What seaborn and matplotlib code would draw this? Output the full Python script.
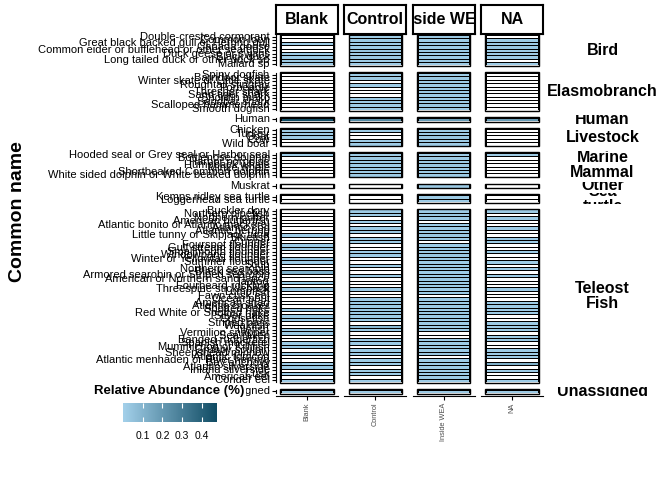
import matplotlib
matplotlib.use("Agg")
import matplotlib.pyplot as plt
import matplotlib.cm as cm
import pandas as pd
import seaborn as sns
from matplotlib.colors import LinearSegmentedColormap, Normalize
from matplotlib.patches import Rectangle

plt.rcParams["font.family"] = ["Liberation Sans", "DejaVu Sans"]

sites = ["Blank", "Control", "Inside WEA", "NA"]
groups = ["Bird", "Elasmobranch", "Human", "Livestock", "Marine\nMammal",
          "Other", "Sea\nturtle", "Teleost\nFish", "Unassigned"]

bird = ["Double-crested cormorant", "Common loon", "Great black backed gull or Herring gull",
        "Canada goose", "Common eider or bufflehead or other sea duck", "Duck geese or swans",
        "Black duck", "Long tailed duck or other duck sp", "Mallard sp"]
elasmobranch = ["Spiny dogfish", "Barndoor skate", "Winter skate or Little skate",
                "Roughtail stingray", "Porbeagle", "Thresher shark", "Sand tiger shark",
                "Shortfin mako", "Sandbar shark", "Scalloped hammerhead", "Smooth dogfish"]
human = ["Human"]
livestock = ["Chicken", "Turkey", "Goat", "Cow", "Wild boar"]
marine_mammal = ["Hooded seal or Grey seal or Harbor seal", "Bottlenose dolphin",
                 "Harbor porpoise", "Humpback whale", "Minke whale",
                 "Shortbeaked Common dolphin", "White sided dolphin or White beaked dolphin"]
other = ["Muskrat"]
sea_turtle = ["Kemps ridley sea turtle", "Loggerhead sea turtle"]
teleost = ["Buckler dory", "Northern pipefish", "Northern puffer", "American butterfish",
           "Atlantic bonito or Atlantic mackerel", "Atlantic cod", "Atlantic herring",
           "Little tunny or Skipjack tuna", "Bluefish", "Cunner", "Fourspot flounder",
           "Gulf stream flounder", "Smallmouth flounder", "Windowpane flounder",
           "Winter or Yellowtail flounder", "Summer flounder", "Scup", "Northern searobin",
           "Black sea bass", "Armored searobin or Striped searobin",
           "American or Northern sand lance", "Tautog", "Fourbeard rockling",
           "Threespine stickleback", "Lumpfish", "Fawn cusk eel", "Ocean pout",
           "American shad", "Atlantic croaker", "Spotted hake", "Red White or Spotted hake",
           "Silver hake", "Goosefish", "Striped bass", "Weakfish", "Tilefish",
           "Vermilion snapper", "Sea raven", "Banded rudderfish", "Spanish mackerel",
           "Mummichog or Killifish", "Grubby sculpin", "Sheepshead minnow", "Atlantic tomcod",
           "Atlantic menhaden or River herring", "Bay anchovy", "Atlantic silverside",
           "Inland silverside", "Cusk", "American eel", "Conger eel"]
unassigned = ["Unassigned"]
group_members = [bird, elasmobranch, human, livestock, marine_mammal,
                 other, sea_turtle, teleost, unassigned]

# relative abundance per site, rows in the same order as the name lists above
blank = [0, 0, .02, 0, 0, .02, .02, .03, .02,
         0, 0, 0, 0, 0, 0, 0, 0, 0, 0, 0,
         .47,
         .02, .02, .02, 0, 0,
         .02, 0, 0, 0, 0, 0, 0,
         0,
         0, 0,
         0, 0, 0, 0, 0, 0, 0, .02, 0, 0,
         .02, .02, 0, 0, .02, .02, 0, 0, .12, 0,
         0, .02, 0, .02, 0, 0, 0, 0, 0, .02,
         0, .02, .02, 0, 0, .02, .02, 0, 0, .02,
         .02, 0, .02, 0, 0, .02, .02, 0, .02, 0,
         .02,
         .03]
control = [.02, .03, .02, .02, .04, .02, .03, .02, .02,
           .02, .02, 0, .02, 0, 0, 0, .02, .02, .02, .02,
           .25,
           .02, 0, 0, .02, .02,
           .02, .02, .03, .02, .02, .02, .02,
           0,
           0, 0,
           .02, .02, 0, .02, 0, .02, .03, 0, .02, .02,
           0, 0, .02, .02, 0, 0, .02, 0, 0, .02,
           0, 0, 0, .02, 0, 0, .02, .02, .02, .03,
           .02, .02, .02, 0, .08, .02, 0, 0, .02, .02,
           0, .02, .02, 0, .02, .02, 0, .02, .02, 0,
           .02,
           .03]
inside_wea = [.03, .02, .04, .02, .03, .02, .02, .03, .02,
              .02, .03, .02, .02, .02, .03, .02, .02, .02, .03, .02,
              .19,
              .02, .02, .03, .02, .02,
              .02, .02, .02, .03, .02, .02, .02,
              .02,
              .02, .02,
              .02, .03, .02, 0, .02, .02, .02, .03, .02, 0,
              .02, .02, .02, .03, .02, .02, .02, .02, .02, .02,
              .03, .02, .02, .02, .02, 0, .02, .02, .02, .02,
              .03, .02, .02, .02, .02, .02, 0, 0, .02, .02,
              .02, .02, .03, 0, .02, .02, .02, .02, .02, .02,
              .02,
              .03]
na_site = [0, .02, .02, .03, .02, .02, .02, 0, .02,
           0, 0, 0, 0, 0, 0, 0, 0, 0, 0, 0,
           .19,
           0, 0, 0, 0, 0,
           .02, 0, 0, 0, 0, 0, 0,
           0,
           0, 0,
           .02, 0, .02, 0, 0, .02, 0, 0, .02, .02,
           0, 0, .02, 0, 0, .02, 0, .02, 0, .02,
           0, 0, 0, .02, 0, 0, 0, .02, .02, .02,
           .02, 0, 0, .02, .02, .02, 0, .02, .02, 0,
           0, .02, .02, .02, 0, .12, 0, .02, 0, 0,
           .02,
           .03]

colorbar_ticks = [0.1, 0.2, 0.3, 0.4]
VMAX = 0.476

names_all = [n for g in group_members for n in g]
group_all = [lab for lab, g in zip(groups, group_members) for _ in g]
wide = pd.DataFrame({"common_name": names_all, "group": group_all,
                     "Blank": blank, "Control": control,
                     "Inside WEA": inside_wea, "NA": na_site})
long = wide.melt(id_vars=["common_name", "group"], var_name="site", value_name="abundance")

cmap = LinearSegmentedColormap.from_list("abund", ["#a3d0ea", "#0f4b63"])
cmap_cells = cmap.copy()
cmap_cells.set_under("white")

W, H = 672, 480


def fig_rect(x0, y0, x1, y1):
    return [x0 / W, 1 - y1 / H, (x1 - x0) / W, (y1 - y0) / H]


fig = plt.figure(figsize=(W / 100, H / 100), dpi=100, facecolor="white")

col_left = [276, 344.3, 412.6, 481]
col_w = 62
top, bottom, gap = 35, 393, 7.5
total_rows = len(names_all)
row_h = (bottom - top - gap * (len(groups) - 1)) / total_rows
# half of the border width in pixels, so the frame sits just outside the tiles
half_px = 0.7
dx = half_px / (col_w / 1.2)
dy = half_px / row_h

y0 = top
for gi, (grp, members) in enumerate(zip(groups, group_members)):
    n = len(members)
    y1 = y0 + n * row_h
    last = gi == len(groups) - 1
    for j, site in enumerate(sites):
        ax = fig.add_axes(fig_rect(col_left[j], y0, col_left[j] + col_w, y1))
        sub = long[(long["group"] == grp) & (long["site"] == site)]
        mat = sub.set_index("common_name")[["abundance"]].loc[members]
        mat.columns = [site]
        sns.heatmap(mat, ax=ax, cmap=cmap_cells, vmin=0.001, vmax=VMAX, cbar=False,
                    linewidths=0.4, linecolor="black",
                    xticklabels=False, yticklabels=(j == 0))
        ax.set_xlim(-0.1, 1.1)
        ax.set_ylim(n, 0)
        ax.set_xlabel("")
        ax.set_ylabel("")
        ax.add_patch(Rectangle((-dx, -dy), 1 + 2 * dx, n + 2 * dy, fill=False,
                               lw=1.0, ec="black", clip_on=False))
        if j == 0:
            ax.set_yticks([i + 0.5 for i in range(n)])
            ax.set_yticklabels(members, rotation=0, fontsize=8, color="black")
            ax.spines["left"].set_visible(True)
            ax.spines["left"].set_linewidth(0.8)
            ax.tick_params(axis="y", length=3, width=0.8, pad=1.5, left=True)
        else:
            ax.set_yticks([])
        if last:
            ax.set_xticks([0.5])
            ax.set_xticklabels([site])
            ax.spines["bottom"].set_visible(True)
            ax.spines["bottom"].set_linewidth(0.8)
            ax.spines["bottom"].set_position(("outward", 2.5))
            ax.tick_params(axis="x", length=3, width=0.8, pad=1.5, bottom=True,
                           labelrotation=90, labelsize=5.3, labelcolor="#4d4d4d")
        else:
            ax.set_xticks([])

    # facet label on the right, clipped to its row like ggplot strips
    gax = fig.add_axes(fig_rect(547, y0 - 2.5, 658, y1 + 2.5))
    gax.set_facecolor("none")
    gax.set_xticks([])
    gax.set_yticks([])
    for s in gax.spines.values():
        s.set_visible(False)
    gax.text(0.5, 0.5, grp, transform=gax.transAxes, ha="center", va="center",
             fontsize=11.5, fontweight="bold", linespacing=1.0, clip_on=True)
    y0 = y1 + gap

# top strips
for j, site in enumerate(sites):
    sax = fig.add_axes(fig_rect(col_left[j], 5, col_left[j] + col_w, 34))
    sax.set_xticks([])
    sax.set_yticks([])
    for s in sax.spines.values():
        s.set_linewidth(1.5)
    sax.text(0.5, 0.5, site, transform=sax.transAxes, ha="center", va="center",
             fontsize=11.5, fontweight="bold", clip_on=True)

fig.text(18 / W, 1 - 212 / H, "Common name", rotation=90, ha="center", va="center",
         fontsize=14, fontweight="bold")

# colour legend
fig.text(94 / W, 1 - 391 / H, "Relative Abundance (%)", ha="left", va="center",
         fontsize=9.5, fontweight="bold",
         bbox=dict(facecolor="white", edgecolor="none", pad=1.5))
cax = fig.add_axes(fig_rect(123, 403, 217, 422))
cb = fig.colorbar(cm.ScalarMappable(norm=Normalize(0, VMAX), cmap=cmap), cax=cax,
                  orientation="horizontal", ticks=colorbar_ticks)
cb.outline.set_visible(False)
cax.tick_params(direction="in", color="white", length=3.5, width=0.8,
                top=True, bottom=True, labelsize=7.5, labelcolor="black", pad=6.5)

fig.savefig("out.png", dpi=100, facecolor="white")
